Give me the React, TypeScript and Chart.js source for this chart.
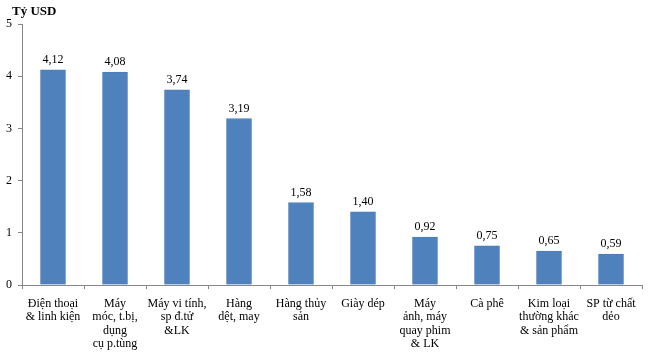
import React, { useEffect, useRef } from "react";
import { Chart, registerables } from "chart.js";

Chart.register(...registerables);

const categories: string[][] = [
  ["Điện thoại", "& linh kiện"],
  ["Máy", "móc, t.bị,", "dụng", "cụ p.tùng"],
  ["Máy vi tính,", "sp đ.tử", "&LK"],
  ["Hàng", "dệt, may"],
  ["Hàng thủy", "sản"],
  ["Giày dép"],
  ["Máy", "ảnh, máy", "quay phim", "& LK"],
  ["Cà phê"],
  ["Kim loại", "thường khác", "& sản phẩm"],
  ["SP từ chất", "dẻo"],
];
const values: number[] = [4.12, 4.08, 3.74, 3.19, 1.58, 1.4, 0.92, 0.75, 0.65, 0.59];
const yTicks: number[] = [0, 1, 2, 3, 4, 5];
const axisTitle = "Tỷ USD";

const FONT = "'Liberation Serif', 'Times New Roman', serif";

const labelPlugin = {
  id: "valueLabels",
  afterDatasetsDraw(chart: any) {
    const ctx = chart.ctx;
    const meta = chart.getDatasetMeta(0);
    ctx.save();
    ctx.font = `12px ${FONT}`;
    ctx.fillStyle = "#000";
    ctx.textAlign = "center";
    ctx.textBaseline = "bottom";
    meta.data.forEach((el: any, i: number) => {
      const txt = values[i].toFixed(2).replace(".", ",");
      ctx.fillText(txt, el.x, el.y - 4);
    });
    ctx.font = `bold 13px ${FONT}`;
    ctx.textAlign = "left";
    ctx.textBaseline = "middle";
    ctx.fillText(axisTitle, 12, 12);
    ctx.restore();
  },
};

export default function App() {
  const ref = useRef<HTMLCanvasElement | null>(null);
  useEffect(() => {
    document.body.style.margin = "0";
    const chart = new Chart(ref.current as HTMLCanvasElement, {
      type: "bar",
      data: {
        labels: categories,
        datasets: [
          {
            data: values,
            backgroundColor: "#4F81BD",
            borderColor: "#4A7EBB",
            borderWidth: 1,
            barThickness: 25,
          },
        ],
      },
      options: {
        animation: false,
        responsive: false,
        maintainAspectRatio: false,
        layout: { padding: { top: 24, right: 8, left: 0, bottom: 0 } },
        plugins: { legend: { display: false }, tooltip: { enabled: false } },
        scales: {
          x: {
            grid: {
              offset: true,
              drawOnChartArea: false,
              drawTicks: true,
              tickLength: 4,
              color: "#868686",
            },
            border: { color: "#868686" },
            ticks: {
              color: "#000",
              font: { family: FONT, size: 12, lineHeight: 1.12 },
              maxRotation: 0,
              autoSkip: false,
              padding: 8,
            },
            afterFit: (s: any) => {
              s.height = 69;
            },
          },
          y: {
            min: 0,
            max: 5,
            afterBuildTicks: (s: any) => {
              s.ticks = yTicks.map((v) => ({ value: v }));
            },
            grid: {
              drawOnChartArea: false,
              drawTicks: true,
              tickLength: 4,
              color: "#868686",
            },
            border: { color: "#868686" },
            ticks: {
              color: "#000",
              font: { family: FONT, size: 12 },
              padding: 6,
            },
            afterFit: (s: any) => {
              s.width = 22;
            },
          },
        },
      },
      plugins: [labelPlugin],
    });
    return () => chart.destroy();
  }, []);
  return (
    <div style={{ position: "absolute", left: 0, top: 0, width: 650, height: 354 }}>
      <canvas ref={ref} width={650} height={354} />
    </div>
  );
}
